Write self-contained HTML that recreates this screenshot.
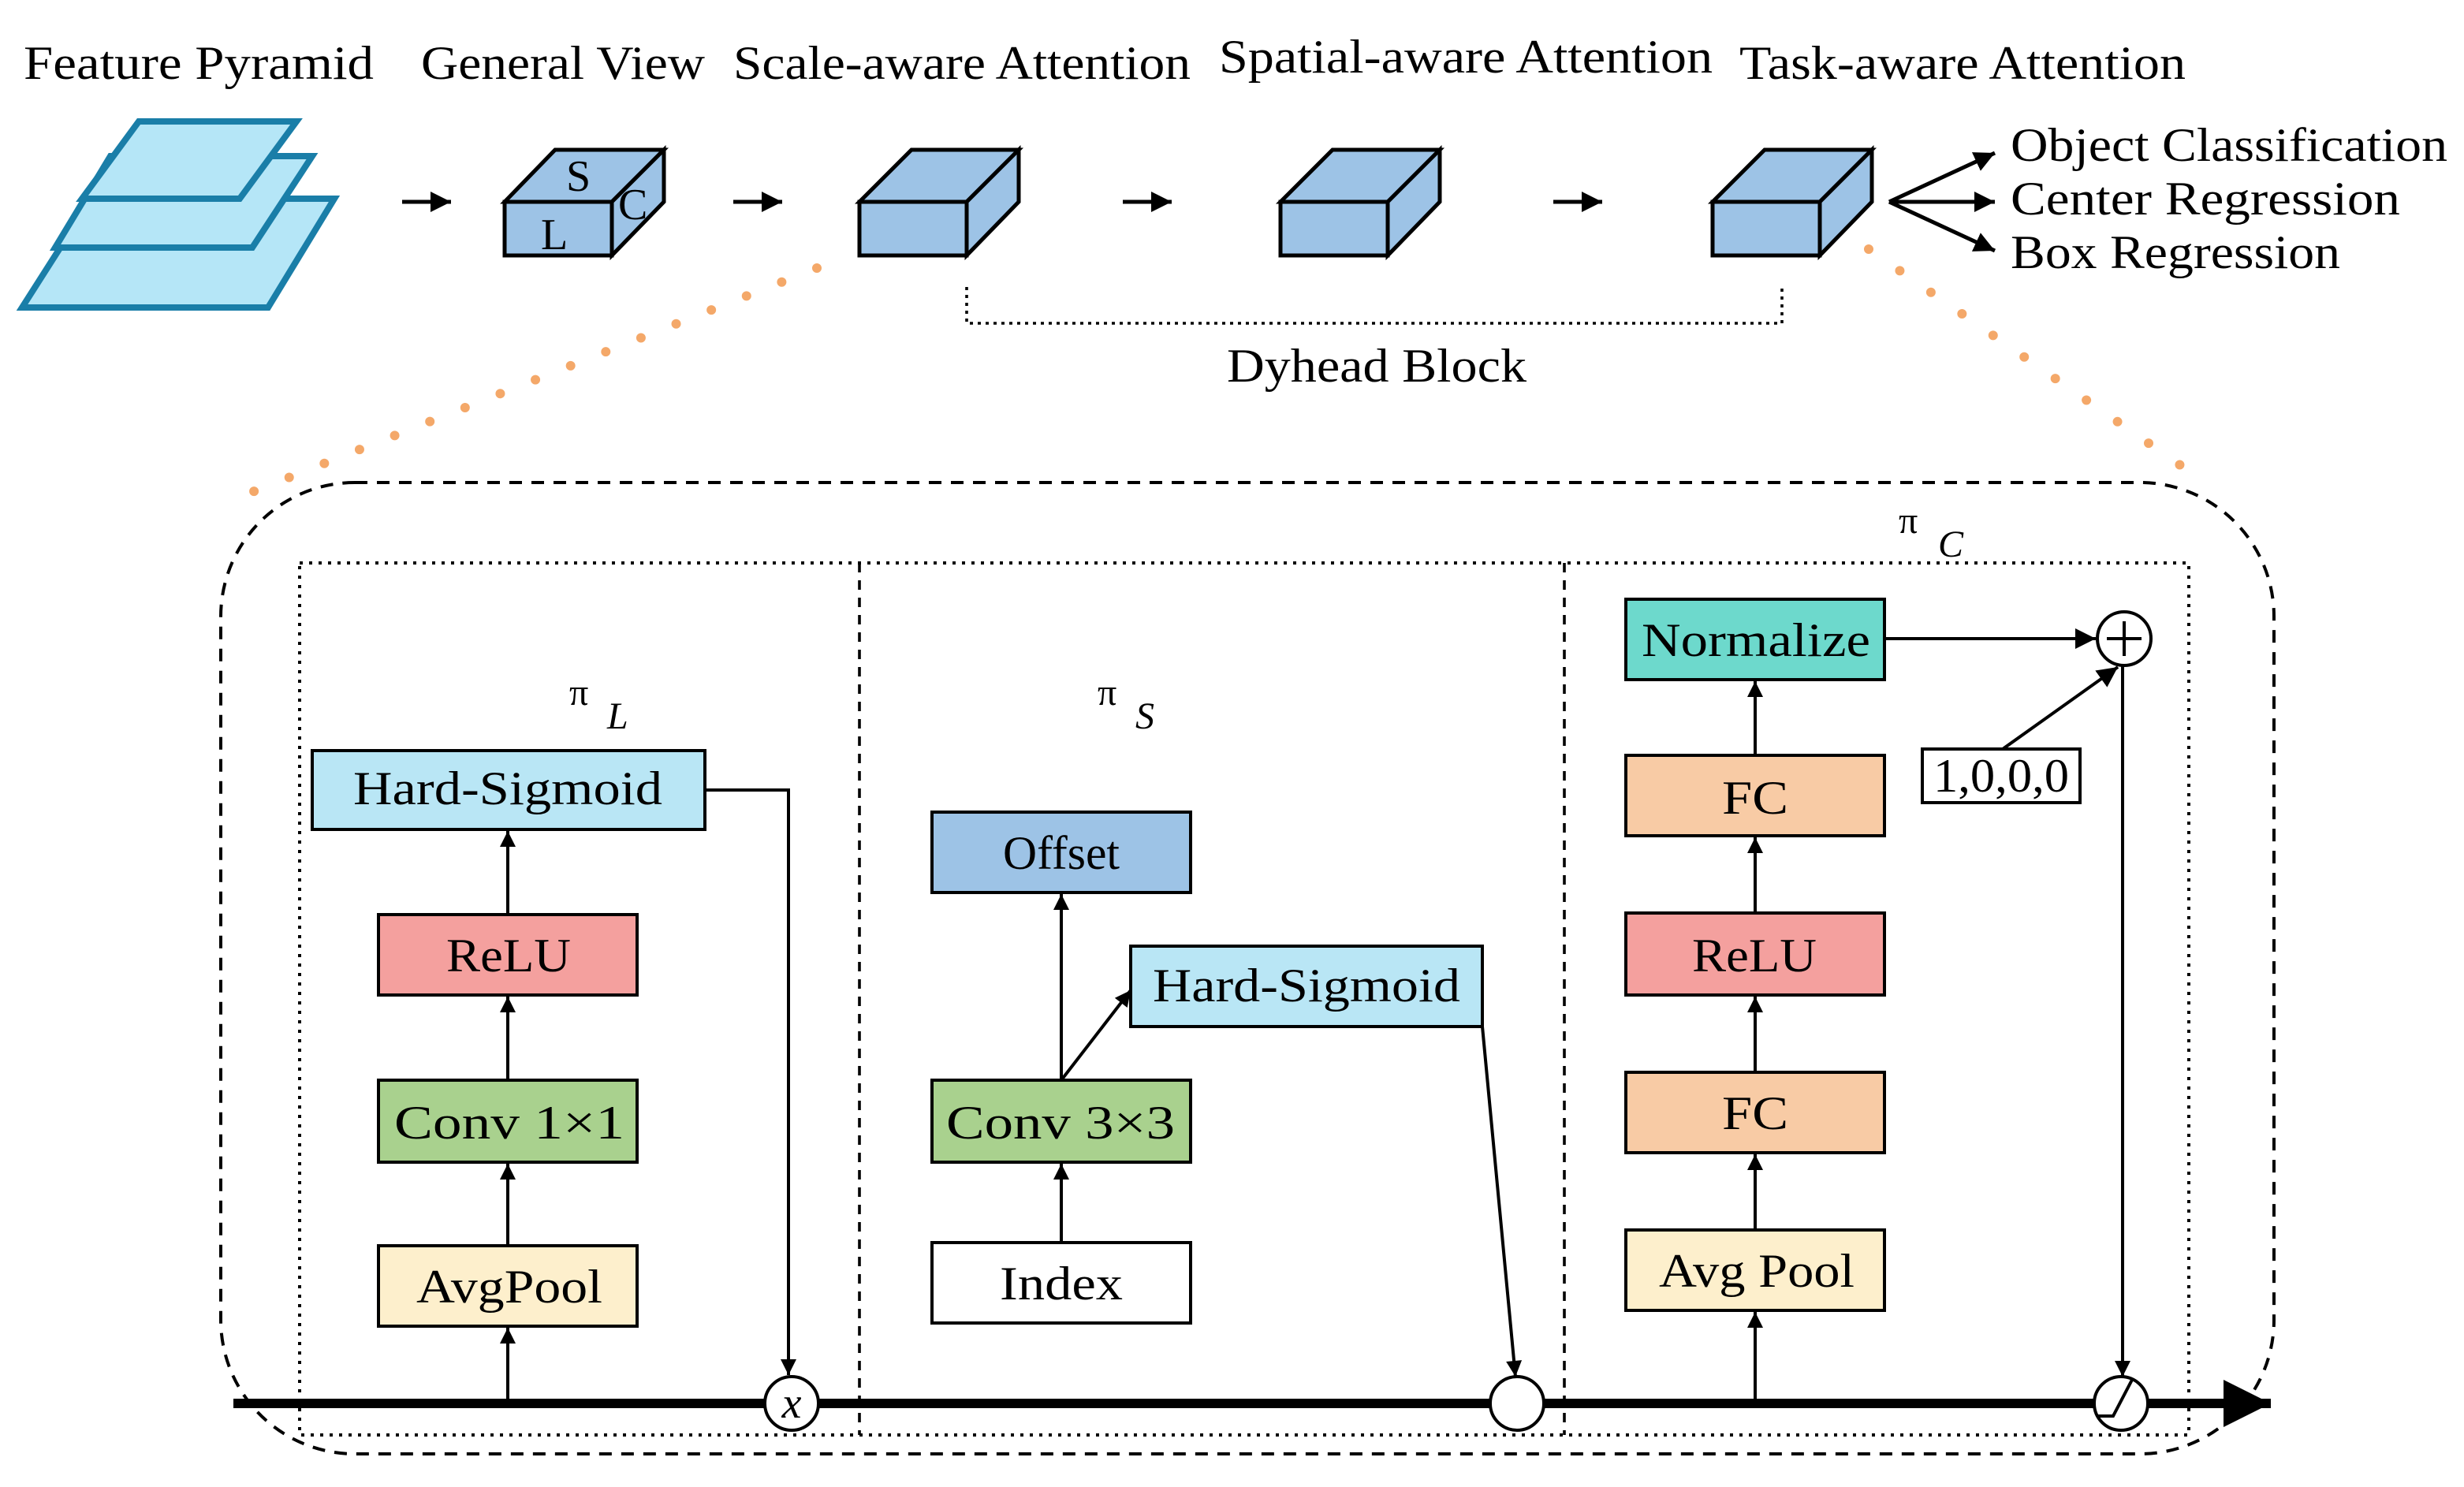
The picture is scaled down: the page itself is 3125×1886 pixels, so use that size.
<!DOCTYPE html>
<html><head><meta charset="utf-8"><style>
html,body{margin:0;padding:0;background:#fff;}
svg{display:block;}
text{font-family:"Liberation Serif",serif;fill:#000;}
</style></head><body>
<svg width="3125" height="1886" viewBox="0 0 1562.5 943" xmlns="http://www.w3.org/2000/svg">
<defs>
<marker id="a" viewBox="0 0 10 10" refX="10" refY="5" markerWidth="11" markerHeight="10" markerUnits="userSpaceOnUse" orient="auto"><path d="M0,0L10,5L0,10z" fill="#000"/></marker>
<marker id="c" viewBox="0 0 10 10" refX="10" refY="5" markerWidth="13" markerHeight="16" markerUnits="userSpaceOnUse" orient="auto"><path d="M0,0L10,5L0,10z" fill="#000"/></marker>
<marker id="b" viewBox="0 0 10 10" refX="10" refY="5" markerWidth="30" markerHeight="32" markerUnits="userSpaceOnUse" orient="auto"><path d="M0,0L10,5L0,10z" fill="#000"/></marker>
</defs>
<g font-size="30" lengthAdjust="spacingAndGlyphs">
<text x="15" y="50" textLength="222" lengthAdjust="spacingAndGlyphs">Feature Pyramid</text>
<text x="267" y="50" textLength="180" lengthAdjust="spacingAndGlyphs">General View</text>
<text x="465" y="50" textLength="290" lengthAdjust="spacingAndGlyphs">Scale-aware Attention</text>
<text x="773" y="46" textLength="313" lengthAdjust="spacingAndGlyphs">Spatial-aware Attention</text>
<text x="1103" y="50" textLength="283" lengthAdjust="spacingAndGlyphs">Task-aware Attention</text>
<text x="1275" y="102" textLength="277" lengthAdjust="spacingAndGlyphs">Object Classification</text>
<text x="1275" y="136" textLength="247" lengthAdjust="spacingAndGlyphs">Center Regression</text>
<text x="1275" y="170" textLength="209" lengthAdjust="spacingAndGlyphs">Box Regression</text>
<text x="778" y="242" textLength="190" lengthAdjust="spacingAndGlyphs">Dyhead Block</text>
</g>
<g fill="#b5e6f7" stroke="#1a7ea8" stroke-width="4" stroke-linejoin="miter">
<polygon points="14,195 58,126 212,126 170,195"/>
<polygon points="35,157 70,99 198,99 160,157"/>
<polygon points="52,126 88,77 188,77 152,126"/>
</g>
<g stroke="#000" stroke-width="2.5" fill="none" marker-end="url(#c)">
<line x1="255" y1="128" x2="286" y2="128"/>
<line x1="465" y1="128" x2="496" y2="128"/>
<line x1="712" y1="128" x2="743" y2="128"/>
<line x1="985" y1="128" x2="1016" y2="128"/>
<line x1="1198" y1="128" x2="1265" y2="97"/>
<line x1="1198" y1="128" x2="1265" y2="128"/>
<line x1="1198" y1="128" x2="1265" y2="159"/>
</g>
<g fill="#9dc3e6" stroke="#000" stroke-width="2.5">
<polygon points="320,128 352,95 421,95 388,128"/><rect x="320" y="128" width="68" height="34"/><polygon points="388,128 421,95 421,128 388,162"/>
<polygon points="545,128 578,95 646,95 613,128"/><rect x="545" y="128" width="68" height="34"/><polygon points="613,128 646,95 646,128 613,162"/>
<polygon points="812,128 845,95 913,95 880,128"/><rect x="812" y="128" width="68" height="34"/><polygon points="880,128 913,95 913,128 880,162"/>
<polygon points="1086,128 1119,95 1187,95 1154,128"/><rect x="1086" y="128" width="68" height="34"/><polygon points="1154,128 1187,95 1187,128 1154,162"/>
</g>
<g font-size="28"><text x="359" y="121">S</text><text x="343" y="158">L</text><text x="392" y="139">C</text></g>
<path d="M613,182 V205 H1130 V182" fill="none" stroke="#000" stroke-width="1.8" stroke-dasharray="2,3"/>
<g stroke="#f4a869" stroke-width="6" stroke-linecap="round" stroke-dasharray="0,24">
<line x1="518" y1="170" x2="160" y2="312"/>
<line x1="1185" y1="158" x2="1397" y2="305"/>
</g>
<rect x="140" y="306" width="1302" height="616" rx="85" fill="none" stroke="#000" stroke-width="2" stroke-dasharray="8,6"/>
<rect x="190" y="357" width="1198" height="553" fill="none" stroke="#000" stroke-width="2" stroke-dasharray="2,4"/>
<line x1="545" y1="357" x2="545" y2="910" stroke="#000" stroke-width="1.8" stroke-dasharray="6,5"/>
<line x1="992" y1="357" x2="992" y2="910" stroke="#000" stroke-width="1.8" stroke-dasharray="6,5"/>
<line x1="148" y1="890" x2="1440" y2="890" stroke="#000" stroke-width="6" marker-end="url(#b)"/>
<g font-size="24"><text x="361" y="447">π</text><text x="385" y="462" font-style="italic">L</text>
<text x="696" y="447">π</text><text x="720" y="462" font-style="italic">S</text>
<text x="1204" y="338">π</text><text x="1229" y="353" font-style="italic">C</text></g>
<g stroke="#000" stroke-width="2">
<rect x="198" y="476" width="249" height="50" fill="#b9e6f5"/>
<rect x="240" y="580" width="164" height="51" fill="#f4a09e"/>
<rect x="240" y="685" width="164" height="52" fill="#a9d18e"/>
<rect x="240" y="790" width="164" height="51" fill="#fdefcc"/>
<rect x="591" y="515" width="164" height="51" fill="#9dc3e6"/>
<rect x="717" y="600" width="223" height="51" fill="#b9e6f5"/>
<rect x="591" y="685" width="164" height="52" fill="#a9d18e"/>
<rect x="591" y="788" width="164" height="51" fill="#fff"/>
<rect x="1031" y="380" width="164" height="51" fill="#6dd9cc"/>
<rect x="1031" y="479" width="164" height="51" fill="#f8cba5"/>
<rect x="1031" y="579" width="164" height="52" fill="#f4a09e"/>
<rect x="1031" y="680" width="164" height="51" fill="#f8cba5"/>
<rect x="1031" y="780" width="164" height="51" fill="#fdefcc"/>
<rect x="1219" y="475" width="100" height="34" fill="#fff"/>
</g>
<g font-size="30">
<text x="224" y="510" textLength="196" lengthAdjust="spacingAndGlyphs">Hard-Sigmoid</text>
<text x="283" y="616" textLength="79" lengthAdjust="spacingAndGlyphs">ReLU</text>
<text x="250" y="722" textLength="146" lengthAdjust="spacingAndGlyphs">Conv 1×1</text>
<text x="264" y="826" textLength="118" lengthAdjust="spacingAndGlyphs">AvgPool</text>
<text x="636" y="551" textLength="74" lengthAdjust="spacingAndGlyphs">Offset</text>
<text x="731" y="635" textLength="195" lengthAdjust="spacingAndGlyphs">Hard-Sigmoid</text>
<text x="600" y="722" textLength="145" lengthAdjust="spacingAndGlyphs">Conv 3×3</text>
<text x="634" y="824" textLength="78" lengthAdjust="spacingAndGlyphs">Index</text>
<text x="1041" y="416" textLength="145" lengthAdjust="spacingAndGlyphs">Normalize</text>
<text x="1092" y="516" textLength="42" lengthAdjust="spacingAndGlyphs">FC</text>
<text x="1073" y="616" textLength="79" lengthAdjust="spacingAndGlyphs">ReLU</text>
<text x="1092" y="716" textLength="42" lengthAdjust="spacingAndGlyphs">FC</text>
<text x="1052" y="816" textLength="124" lengthAdjust="spacingAndGlyphs">Avg Pool</text>
<text x="1226" y="502" textLength="86" lengthAdjust="spacingAndGlyphs">1,0,0,0</text>
</g>
<g stroke="#000" stroke-width="2" fill="none" marker-end="url(#a)">
<line x1="322" y1="888" x2="322" y2="842"/>
<line x1="322" y1="790" x2="322" y2="738"/>
<line x1="322" y1="685" x2="322" y2="632"/>
<line x1="322" y1="580" x2="322" y2="527"/>
<polyline points="447,501 500,501 500,872"/>
<line x1="673" y1="788" x2="673" y2="738"/>
<line x1="673" y1="685" x2="673" y2="567"/>
<line x1="673" y1="685" x2="717" y2="628"/>
<line x1="940" y1="651" x2="961" y2="873"/>
<line x1="1113" y1="888" x2="1113" y2="832"/>
<line x1="1113" y1="780" x2="1113" y2="732"/>
<line x1="1113" y1="680" x2="1113" y2="632"/>
<line x1="1113" y1="579" x2="1113" y2="531"/>
<line x1="1113" y1="479" x2="1113" y2="432"/>
<line x1="1195" y1="405" x2="1329" y2="405" marker-end="url(#c)"/>
<line x1="1270" y1="475" x2="1343" y2="423" marker-end="url(#c)"/>
<line x1="1346" y1="422" x2="1346" y2="873"/>
</g>
<g stroke="#000" stroke-width="2" fill="#fff">
<circle cx="502" cy="890" r="17"/>
<circle cx="962" cy="890" r="17"/>
<circle cx="1345" cy="890" r="17"/>
<circle cx="1347" cy="405" r="17"/>
</g>
<text x="502" y="899" font-size="28" font-style="italic" text-anchor="middle">x</text>
<path d="M1330,898H1340L1352,875 M1336,405H1358 M1347,394V416" stroke="#000" stroke-width="2" fill="none"/>
</svg>
</body></html>
